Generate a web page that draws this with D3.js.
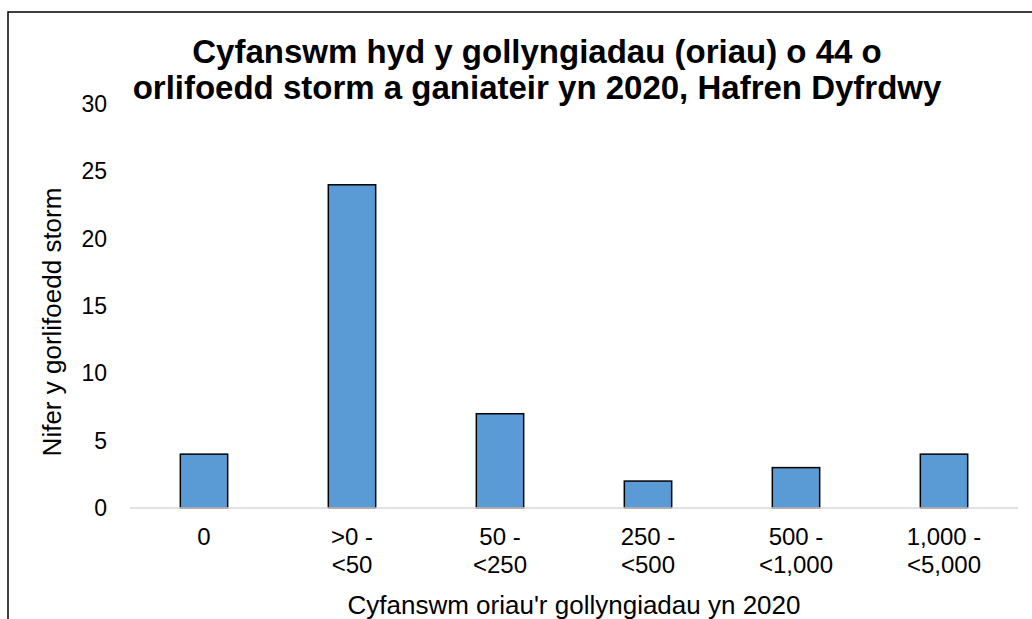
<!DOCTYPE html>
<html>
<head>
<meta charset="utf-8">
<script src="https://cdn.jsdelivr.net/npm/d3@7"></script>
<style>
  body { margin: 0; background: #fff; }
  text { font-family: "Liberation Sans", Arial, sans-serif; fill: #000; }
</style>
</head>
<body>
<svg id="chart" width="1032" height="619"></svg>
<script>
var categories = ["0", ">0 -|<50", "50 -|<250", "250 -|<500", "500 -|<1,000", "1,000 -|<5,000"];
var counts = [4, 24, 7, 2, 3, 4];
var yTicks = [0, 5, 10, 15, 20, 25, 30];
var titleLines = ["Cyfanswm hyd y gollyngiadau (oriau) o 44 o", "orlifoedd storm a ganiateir yn 2020, Hafren Dyfrdwy"];

var svg = d3.select("#chart");

// outer frame, right and bottom run off the page
svg.append("rect")
    .attr("x", 8).attr("y", 12)
    .attr("width", 1100).attr("height", 700)
    .attr("fill", "none").attr("stroke", "#000").attr("stroke-width", 1.5);

var plotLeft = 130, plotRight = 1018, plotTop = 104, plotBottom = 508;

var x = d3.scaleBand()
    .domain(categories)
    .range([plotLeft, plotRight])
    .paddingInner(0.68)
    .paddingOuter(0.34);

var y = d3.scaleLinear()
    .domain([0, 30])
    .range([plotBottom, plotTop]);

// title
svg.append("g").selectAll("text")
    .data(titleLines)
    .join("text")
    .attr("x", 537)
    .attr("y", (d, i) => 63 + i * 36)
    .attr("text-anchor", "middle")
    .style("font-size", "33px")
    .style("font-weight", "bold")
    .text(d => d);

// y axis labels
var yAxis = svg.append("g")
    .attr("transform", "translate(" + (plotLeft - 23) + ",0)")
    .call(d3.axisLeft(y).tickValues(yTicks).tickSize(0).tickPadding(0));
yAxis.select(".domain").remove();
yAxis.selectAll("text")
    .style("font-size", "23px")
    .style("font-family", "Liberation Sans, Arial, sans-serif")
    .attr("fill", "#000");

// bars
svg.append("g").selectAll("rect")
    .data(counts)
    .join("rect")
    .attr("x", (d, i) => x(categories[i]))
    .attr("y", d => y(d))
    .attr("width", x.bandwidth())
    .attr("height", d => y(0) - y(d))
    .attr("fill", "#5B9BD5")
    .attr("stroke", "#000")
    .attr("stroke-width", 1.5);

// baseline
svg.append("line")
    .attr("x1", plotLeft).attr("x2", plotRight)
    .attr("y1", y(0)).attr("y2", y(0))
    .attr("stroke", "#d9d9d9").attr("stroke-width", 1.5);

// x labels, two lines each
var xl = svg.append("g").selectAll("text")
    .data(categories)
    .join("text")
    .attr("x", d => x(d) + x.bandwidth() / 2)
    .attr("y", 545)
    .attr("text-anchor", "middle")
    .style("font-size", "24px");
xl.each(function (d) {
    var parts = d.split("|");
    d3.select(this).selectAll("tspan")
        .data(parts)
        .join("tspan")
        .attr("x", x(d) + x.bandwidth() / 2)
        .attr("dy", (p, i) => i ? 28 : 0)
        .text(p => p);
});

// axis titles
svg.append("text")
    .attr("x", (plotLeft + plotRight) / 2)
    .attr("y", 614)
    .attr("text-anchor", "middle")
    .style("font-size", "26px")
    .text("Cyfanswm oriau'r gollyngiadau yn 2020");

svg.append("text")
    .attr("transform", "translate(61," + 322 + ") rotate(-90)")
    .attr("text-anchor", "middle")
    .style("font-size", "26px")
    .text("Nifer y gorlifoedd storm");
</script>
</body>
</html>
